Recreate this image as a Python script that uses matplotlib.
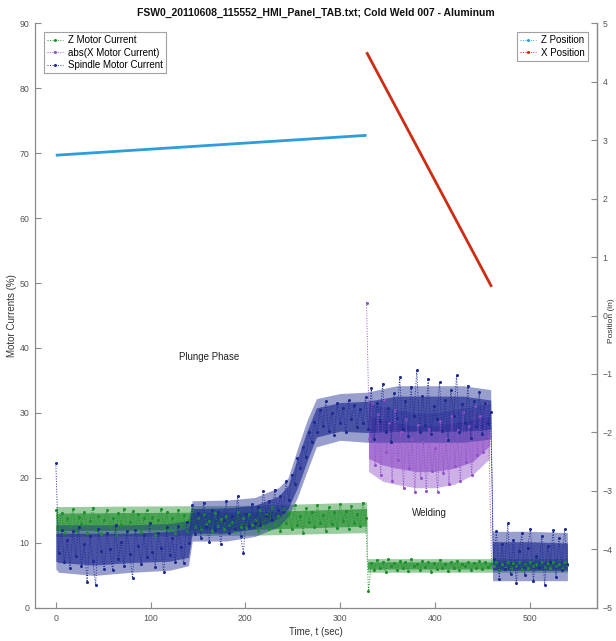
import numpy as np
import matplotlib.pyplot as plt
from matplotlib.lines import Line2D

plt.rcParams['font.family'] = ['Liberation Sans', 'DejaVu Sans']

TITLE = "FSW0_20110608_115552_HMI_Panel_TAB.txt; Cold Weld 007 - Aluminum"
SERIES_NAMES = ["Z Motor Current", "abs(X Motor Current)", "Spindle Motor Current"]
POSITION_NAMES = ["Z Position", "X Position"]

# sampled every 3 s, starting at t = 0
z_motor_current = [
    15.0, 12.2, 14.6, 11.5, 13.8, 12.6, 15.2, 11.8, 14.0, 12.9,
    14.8, 11.6, 13.4, 15.4, 12.0, 14.2, 11.4, 13.6, 15.0, 12.4,
    13.9, 11.2, 14.6, 12.8, 15.3, 11.9, 13.2, 14.9, 12.1, 14.4,
    11.7, 13.8, 15.1, 12.5, 14.0, 11.3, 13.5, 15.2, 12.3, 14.7,
    12.0, 13.9, 11.6, 15.0, 12.7, 14.3, 11.8, 13.6, 14.9, 12.4,
    13.8, 12.2, 14.5, 12.9, 13.4, 11.9, 14.6, 12.6, 13.7, 12.1,
    14.2, 12.8, 13.3, 11.9, 14.7, 12.5, 13.8, 12.3, 14.4, 12.7,
    13.6, 11.8, 15.0, 12.6, 14.4, 12.2, 15.6, 12.9, 14.1, 11.9,
    15.2, 13.0, 14.6, 12.1, 15.8, 12.8, 14.2, 11.6, 15.4, 13.2,
    14.8, 12.4, 15.9, 13.1, 14.3, 11.9, 15.5, 12.9, 14.7, 12.3,
    16.0, 13.4, 14.9, 12.2, 15.7, 13.0, 14.5, 12.6, 16.2, 13.8,
    2.6, 6.9, 5.8, 7.4, 6.2, 7.0, 5.6, 7.5, 6.4, 6.9,
    5.9, 7.3, 6.1, 7.0, 5.7, 7.6, 6.5, 6.8, 5.8, 7.2,
    6.3, 7.1, 5.6, 6.9, 6.0, 7.4, 6.2, 6.8, 5.7, 7.0,
    6.1, 7.3, 5.9, 6.7, 6.4, 7.1, 5.8, 6.9, 6.2, 7.2,
    6.0, 7.0, 6.3, 6.8, 6.5, 7.1, 5.9, 6.8, 6.3, 7.0,
    6.1, 6.9, 6.4, 7.1, 5.9, 6.8, 6.2, 7.0, 6.4, 6.7,
    6.0, 7.1, 6.3, 6.9, 6.1, 7.0, 6.5, 6.8, 6.2, 7.0,
    6.6,
]

# sampled every 3 s, starting at t = 328 (welding phase only)
x_motor_current = [
    47.0, 26.0, 31.5, 22.0, 29.8, 20.5, 32.0, 24.0, 28.5, 19.5,
    30.5, 22.8, 27.0, 18.5, 29.0, 21.5, 26.0, 17.8, 28.2, 20.0,
    25.5, 18.0, 27.5, 21.0, 24.6, 17.9, 28.8, 20.8, 26.2, 19.0,
    29.5, 21.8, 27.4, 19.6, 30.2, 22.5, 28.0, 20.5, 31.0, 23.5,
    29.5, 24.0, 31.5, 26.5, 6.5,
]

# sampled every 3 s, starting at t = 0
spindle_current = [
    22.3, 8.5, 12.0, 7.0, 10.5, 6.2, 11.8, 8.0, 12.5, 6.5,
    9.8, 4.0, 11.0, 7.2, 3.5, 12.2, 8.8, 6.0, 11.5, 9.0,
    5.8, 12.8, 7.5, 10.2, 6.4, 11.9, 8.3, 4.6, 12.0, 9.5,
    6.8, 11.2, 7.9, 13.0, 8.6, 6.3, 11.6, 9.2, 5.5, 12.4,
    8.1, 10.8, 7.0, 12.6, 9.4, 6.9, 13.2, 10.0, 15.8, 11.4,
    14.6, 10.8, 16.2, 12.5, 10.2, 15.0, 12.0, 14.8, 9.8, 13.6,
    16.4, 11.5, 14.2, 12.2, 17.3, 11.0, 8.5, 14.5, 12.6, 16.0,
    13.0, 15.5, 12.8, 18.0, 14.2, 16.5, 13.6, 18.2, 15.0, 17.2,
    14.8, 19.5, 16.6, 20.5, 19.0, 23.0, 21.5, 24.8, 23.2, 27.0,
    25.5, 28.6, 27.0, 30.5, 28.0, 31.8, 27.2, 30.0, 26.6, 31.5,
    28.4, 30.8, 27.0, 32.0, 29.0, 31.2, 27.8, 30.6, 28.5, 32.5,
    27.5, 33.8, 26.0, 31.5, 28.8, 34.5, 27.0, 30.8, 25.6, 33.0,
    29.2, 35.5, 27.5, 31.8, 26.4, 34.0, 29.5, 36.6, 27.0, 32.6,
    28.2, 35.2, 26.8, 31.0, 29.0, 34.8, 27.2, 32.0, 25.8, 33.5,
    29.6, 35.8, 27.0, 31.4, 28.4, 34.2, 26.2, 31.8, 28.0, 33.2,
    26.8, 31.5, 28.5, 30.2, 7.5, 11.8, 4.5, 9.8, 6.0, 13.0,
    5.2, 10.5, 3.8, 8.8, 11.5, 5.0, 9.2, 12.2, 4.2, 8.0,
    6.2, 11.0, 3.5, 9.5, 7.0, 12.0, 4.8, 10.8, 5.8, 12.2,
    6.8,
]

DT = 3
X_START = 328

# dense scatter clouds: outer edge and denser core
z_band_t = [0, 210, 328, 329, 540]
z_outer_lo = [11.0, 11.2, 11.6, 5.5, 5.5]
z_outer_hi = [15.6, 15.8, 16.3, 7.6, 7.6]
z_core_lo = [11.9, 12.1, 12.6, 6.0, 6.0]
z_core_hi = [14.6, 14.8, 15.3, 7.1, 7.1]

x_band_t = [330, 345, 360, 380, 400, 420, 440, 458]
x_outer_lo = [21.0, 19.5, 19.0, 18.5, 18.5, 19.0, 20.5, 23.0]
x_outer_hi = [31.5, 31.0, 30.5, 30.0, 30.0, 30.5, 31.0, 31.5]
x_core_lo = [23.0, 22.0, 21.5, 21.0, 21.0, 21.5, 22.5, 25.0]
x_core_hi = [29.5, 29.0, 28.5, 28.0, 28.0, 28.5, 29.0, 29.5]

s_band_t = [0, 3, 40, 80, 120, 140, 144, 180, 210, 235, 245, 255, 265, 275,
            300, 328, 360, 400, 430, 459, 461, 500, 540]
s_outer_lo = [6.0, 5.5, 5.0, 5.5, 5.8, 6.5, 10.3, 10.3, 11.0, 12.5, 14.0, 17.0,
              21.0, 24.8, 25.8, 25.5, 25.5, 25.5, 25.5, 26.0, 4.2, 4.2, 4.2]
s_outer_hi = [12.8, 12.8, 12.8, 12.8, 13.0, 13.5, 16.5, 16.6, 17.0, 18.5, 20.0,
              24.5, 28.8, 32.2, 33.0, 33.2, 34.2, 34.2, 34.2, 33.6, 11.8, 11.8,
              11.6]
s_core_lo = [7.2, 7.0, 6.6, 7.0, 7.2, 7.8, 11.5, 11.5, 12.2, 13.8, 15.2, 18.5,
             22.5, 26.3, 27.2, 27.0, 27.2, 27.2, 27.2, 27.5, 5.8, 5.8, 5.8]
s_core_hi = [11.5, 11.5, 11.5, 11.5, 11.8, 12.2, 15.3, 15.4, 15.8, 17.2, 18.8,
             23.0, 27.2, 30.8, 31.6, 31.8, 32.6, 32.6, 32.6, 32.0, 10.2, 10.2,
             10.0]

z_pos_time = [0, 328]
z_position = [2.74, 3.08]
x_pos_time = [328, 460]
x_position = [4.50, 0.49]

annotations = [("Plunge Phase", 162, 38.6), ("Welding", 394, 14.6)]

GREEN = "#1f8f2c"
PURPLE = "#9152c9"
BLUE = "#1d2b91"
ZBLUE = "#2d9edb"
XRED = "#cf2b12"
GRAY = "#8a8a8a"
TXT = "#555555"

t_z = np.arange(len(z_motor_current)) * DT
t_x = X_START + np.arange(len(x_motor_current)) * DT
t_s = np.arange(len(spindle_current)) * DT

fig = plt.figure(figsize=(6.16, 6.41), dpi=100)
ax = fig.add_axes([0.0568, 0.0515, 0.912, 0.9126])

style = dict(marker=".", linestyle=":", linewidth=0.7, markersize=2.4)


def cloud(t, olo, ohi, clo, chi, color):
    ax.fill_between(t, olo, ohi, color=color, alpha=0.45, lw=0)
    ax.fill_between(t, clo, chi, color=color, alpha=0.65, lw=0)


cloud(z_band_t, z_outer_lo, z_outer_hi, z_core_lo, z_core_hi, GREEN)
ax.plot(t_z, z_motor_current, color=GREEN, label=SERIES_NAMES[0], **style)
cloud(x_band_t, x_outer_lo, x_outer_hi, x_core_lo, x_core_hi, PURPLE)
ax.plot(t_x, x_motor_current, color=PURPLE, label=SERIES_NAMES[1], **style)
cloud(s_band_t, s_outer_lo, s_outer_hi, s_core_lo, s_core_hi, BLUE)
ax.plot(t_s, spindle_current, color=BLUE, label=SERIES_NAMES[2], **style)

for txt, tx, ty in annotations:
    ax.text(tx, ty, txt, ha="center", va="center", fontsize=7, color="#222222")

ax.set_xlim(-22, 571)
ax.set_ylim(0, 90)
ax.set_xticks(range(0, 501, 100))
ax.set_yticks(range(0, 91, 10))
ax.set_xlabel("Time, t (sec)", fontsize=7, color="#333333", labelpad=3)
ax.set_ylabel("Motor Currents (%)", fontsize=7, color="#333333", labelpad=2)

ax2 = ax.twinx()
ax2.plot(z_pos_time, z_position, color=ZBLUE, linewidth=2.0, solid_capstyle="butt")
ax2.plot(x_pos_time, x_position, color=XRED, linewidth=2.0, solid_capstyle="butt")
ax2.set_ylim(-5, 5)
ax2.set_yticks(range(-5, 6))

for a in (ax, ax2):
    a.spines["top"].set_visible(False)
    for s in a.spines.values():
        s.set_color(GRAY)
        s.set_linewidth(0.9)
    a.tick_params(direction="in", length=4, width=0.8, colors=GRAY,
                  labelcolor=TXT, labelsize=6.3, pad=4)
ax2.spines["left"].set_visible(False)
ax2.spines["bottom"].set_visible(False)

leg_kw = dict(fontsize=7, frameon=True, fancybox=False, borderaxespad=0,
              handlelength=1.6, handletextpad=0.5, labelspacing=0.25,
              borderpad=0.35)
leg1 = ax.legend(loc="upper left", bbox_to_anchor=(0.016, 0.985), **leg_kw)
leg1.get_frame().set_edgecolor(GRAY)
leg1.get_frame().set_linewidth(0.8)

pos_handles = [Line2D([], [], color=c, **style) for c in (ZBLUE, XRED)]
leg2 = ax2.legend(pos_handles, POSITION_NAMES, loc="upper right",
                  bbox_to_anchor=(0.984, 0.985), **leg_kw)
leg2.get_frame().set_edgecolor(GRAY)
leg2.get_frame().set_linewidth(0.8)

ax.set_title(TITLE, fontsize=7.5, fontweight="bold", color="#111111", pad=5)

fig.text(0.999, 0.5, "Position (in)", rotation=90, va="center", ha="right",
         fontsize=6, color="#333333")

fig.savefig("out.png", dpi=100)
